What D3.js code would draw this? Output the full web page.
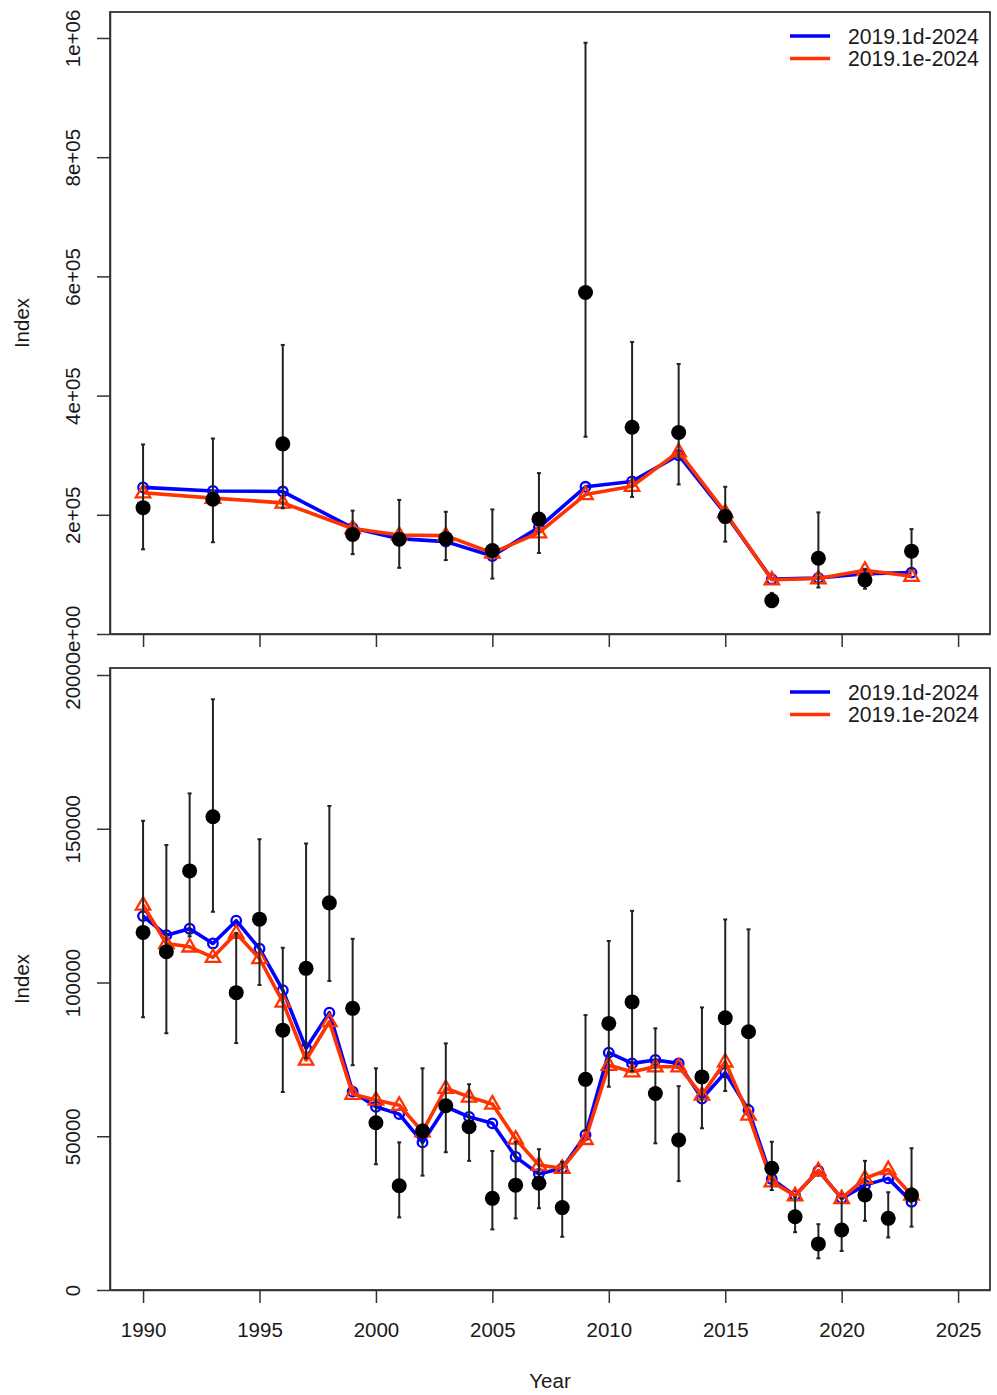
<!DOCTYPE html>
<html>
<head>
<meta charset="utf-8">
<script src="https://cdn.jsdelivr.net/npm/d3@7"></script>
<style>
  html, body { margin: 0; padding: 0; background: #fff; }
  svg { display: block; font-family: "Liberation Sans", Arial, sans-serif; }
</style>
</head>
<body>
<svg id="chart" width="997" height="1395"></svg>
<script>
// ---------- data ----------
const seriesNames = ["2019.1d-2024", "2019.1e-2024"];

const topYears = [1990,1993,1996,1999,2001,2003,2005,2007,2009,2011,2013,2015,2017,2019,2021,2023];
const topObs  = [212000,226000,319000,167000,159000,160000,140000,193000,573000,347000,338000,197000,56000,127000,90500,139000];
const topLo   = [142000,154000,211000,134000,111000,124000,93000,136000,331000,230000,251000,155000,45000,78000,76000,110000];
const topHi   = [318000,328000,485000,207000,225000,205000,209000,270000,992000,490000,453000,247000,69000,204000,108000,176000];
const topBlue = [246000,240000,239000,178000,160000,155000,131000,179000,247000,256000,300000,202000,92000,94000,101000,103000];
const topRed  = [237000,228000,220000,177000,166000,165000,136000,170000,234000,248000,306000,204000,91000,93000,107000,97000];
const topYTicks = [0, 200000, 400000, 600000, 800000, 1000000];
const topYLabels = ["0e+00","2e+05","4e+05","6e+05","8e+05","1e+06"];

const botYears = [1990,1991,1992,1993,1994,1995,1996,1997,1998,1999,2000,2001,2002,2003,2004,2005,2006,2007,2008,2009,2010,2011,2012,2013,2014,2015,2016,2017,2018,2019,2020,2021,2022,2023];
const botObs  = [116300,110000,136300,153900,96700,120600,84500,104600,125900,91600,54400,33900,51700,59900,53100,29800,34100,34700,26800,68500,86700,93700,63900,48800,69300,88500,84000,39600,23800,15000,19500,30900,23300,30900];
const botLo   = [88700,83500,115000,123000,80300,99200,64400,75400,100500,73100,40900,23600,37200,44800,42000,19700,23300,26600,17300,52000,66100,71200,47700,35400,52600,64700,60200,32500,18800,10300,12700,22500,17100,20600];
const botHi   = [152600,144700,161500,192100,116000,146600,111300,145200,157400,114200,72100,48000,72100,80200,66900,45200,48200,45800,41700,89400,113500,123300,85100,66300,91900,120500,117300,48200,30100,21400,29800,42000,31800,46100];
const botBlue = [121600,115400,117500,112700,120100,111000,97500,78600,90200,64500,59600,57200,48000,59600,56300,54200,43300,37700,39600,50400,77200,73700,74800,73700,62300,70700,58500,36100,30700,38800,29800,34100,36300,28700];
const botRed  = [125200,112700,111600,108200,116000,107800,93700,74800,87300,63700,61800,60100,51500,65600,62800,60500,49100,40600,39600,49000,73100,71000,72600,72600,63400,74200,56900,35200,30700,38800,29800,36300,39200,30900];
const botYTicks = [0, 50000, 100000, 150000, 200000];
const botYLabels = ["0","50000","100000","150000","200000"];

const xTicks = [1990,1995,2000,2005,2010,2015,2020,2025];

// ---------- style ----------
const BLUE = "#0000FF", RED = "#FF3300", INK = "#1a1a1a", FRAME = "#333333";
const FS = 20.5, LFS = 21.2;

const svg = d3.select("#chart");
const defs = svg.append("defs");

const left = 110, right = 990;

function panel(cfg) {
  const x = d3.scaleLinear().domain([1988.58, 2026.37]).range([left, right]);
  const y = d3.scaleLinear().domain(cfg.yDomain).range([cfg.bottom, cfg.top]);

  const clipId = "clip" + cfg.id;
  defs.append("clipPath").attr("id", clipId)
    .append("rect").attr("x", 0).attr("y", cfg.figTop).attr("width", 997).attr("height", cfg.figBottom - cfg.figTop);
  const g = svg.append("g").attr("clip-path", `url(#${clipId})`);

  // y axis
  const yAxis = d3.axisLeft(y).tickValues(cfg.yTicks).tickSize(13).tickSizeOuter(0)
    .tickFormat((d, i) => cfg.yLabels[i]);
  const ya = g.append("g").attr("transform", `translate(${left},0)`).call(yAxis);
  ya.select(".domain").attr("stroke", FRAME).attr("stroke-width", 1.5);
  ya.selectAll(".tick line").attr("stroke", FRAME).attr("stroke-width", 1.5);
  ya.selectAll(".tick text")
    .attr("font-size", FS).attr("fill", INK)
    .attr("x", 0)
    .attr("text-anchor", "middle")
    .attr("transform", "translate(-37,0) rotate(-90)")
    .attr("dy", "0.36em");

  // x axis
  const xAxis = d3.axisBottom(x).tickValues(xTicks).tickSize(13).tickSizeOuter(0)
    .tickFormat(cfg.xLabels ? d3.format("d") : () => "");
  const xa = g.append("g").attr("transform", `translate(0,${cfg.bottom})`).call(xAxis);
  xa.select(".domain").attr("stroke", FRAME).attr("stroke-width", 1.5);
  xa.selectAll(".tick line").attr("stroke", FRAME).attr("stroke-width", 1.5);
  xa.selectAll(".tick text").attr("font-size", FS).attr("fill", INK)
    .attr("y", 0).attr("dy", 0).attr("transform", "translate(0,47)");

  // box
  g.append("rect").attr("x", left).attr("y", cfg.top)
    .attr("width", right - left).attr("height", cfg.bottom - cfg.top)
    .attr("fill", "none").attr("stroke", FRAME).attr("stroke-width", 1.8);

  // y title
  g.append("text").attr("font-size", FS).attr("fill", INK)
    .attr("text-anchor", "middle")
    .attr("transform", `translate(22,${(cfg.top + cfg.bottom) / 2}) rotate(-90)`)
    .attr("dy", "0.36em").text("Index");

  const years = cfg.years;
  const line = d3.line().x((d, i) => x(years[i])).y(d => y(d));

  // blue series
  g.append("path").datum(cfg.blue).attr("d", line)
    .attr("fill", "none").attr("stroke", BLUE).attr("stroke-width", 3.6).attr("stroke-linejoin", "round");
  g.selectAll(null).data(cfg.blue).enter().append("circle")
    .attr("cx", (d, i) => x(years[i])).attr("cy", d => y(d)).attr("r", 4.8)
    .attr("fill", "none").attr("stroke", BLUE).attr("stroke-width", 2.3);

  // red series
  g.append("path").datum(cfg.red).attr("d", line)
    .attr("fill", "none").attr("stroke", RED).attr("stroke-width", 3.6).attr("stroke-linejoin", "round");
  const tri = d3.symbol().type(d3.symbolTriangle).size(90);
  g.selectAll(null).data(cfg.red).enter().append("path")
    .attr("d", tri)
    .attr("transform", (d, i) => `translate(${x(years[i])},${y(d) + 0.5})`)
    .attr("fill", "none").attr("stroke", RED).attr("stroke-width", 2.3);

  // error bars
  const eb = g.append("g").attr("stroke", "#222").attr("stroke-width", 2);
  years.forEach((yr, i) => {
    const cx = x(yr);
    eb.append("line").attr("x1", cx).attr("x2", cx).attr("y1", y(cfg.lo[i])).attr("y2", y(cfg.hi[i]));
    eb.append("line").attr("x1", cx - 2).attr("x2", cx + 2).attr("y1", y(cfg.lo[i])).attr("y2", y(cfg.lo[i]));
    eb.append("line").attr("x1", cx - 2).attr("x2", cx + 2).attr("y1", y(cfg.hi[i])).attr("y2", y(cfg.hi[i]));
  });

  // observed points
  g.selectAll(null).data(cfg.obs).enter().append("circle")
    .attr("cx", (d, i) => x(years[i])).attr("cy", d => y(d)).attr("r", 7.5)
    .attr("fill", "#000");

  // legend
  const lg = g.append("g");
  [BLUE, RED].forEach((c, i) => {
    const ly = cfg.top + 24 + i * 22.5;
    lg.append("line").attr("x1", 790).attr("x2", 830).attr("y1", ly).attr("y2", ly)
      .attr("stroke", c).attr("stroke-width", 3.6);
    lg.append("text").attr("x", 848).attr("y", ly).attr("dy", "0.36em")
      .attr("font-size", LFS).attr("fill", INK).text(seriesNames[i]);
  });
}

panel({
  id: "top", top: 12, bottom: 634, figTop: 0, figBottom: 656,
  yDomain: [0, 1043600], yTicks: topYTicks, yLabels: topYLabels, xLabels: false,
  years: topYears, obs: topObs, lo: topLo, hi: topHi, blue: topBlue, red: topRed
});

panel({
  id: "bot", top: 668, bottom: 1290, figTop: 656, figBottom: 1395,
  yDomain: [0, 202280], yTicks: botYTicks, yLabels: botYLabels, xLabels: true,
  years: botYears, obs: botObs, lo: botLo, hi: botHi, blue: botBlue, red: botRed
});

// x title
svg.append("text").attr("x", 550).attr("y", 1388).attr("text-anchor", "middle")
  .attr("font-size", FS).attr("fill", INK).text("Year");
</script>
</body>
</html>
